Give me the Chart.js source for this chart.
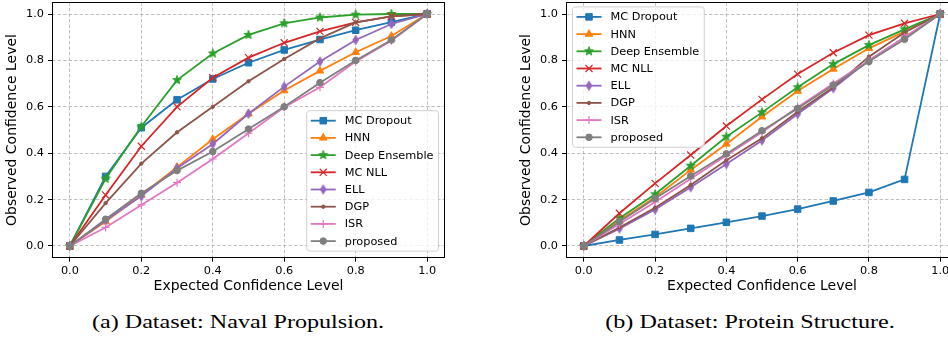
<!DOCTYPE html>
<html>
<head>
<meta charset="utf-8">
<script src="https://cdn.jsdelivr.net/npm/chart.js"></script>
<style>
  html, body { margin: 0; padding: 0; overflow: hidden; background: #fff; }
  body { width: 948px; height: 337px; position: relative; }
  .plot { position: absolute; top: 0; height: 300px; }
  .cap {
    position: absolute; top: 312px; white-space: nowrap;
    font-family: "Liberation Serif", "Times New Roman", serif;
    font-size: 19px; line-height: 19px; color: #000;
    transform: translateX(-50%) scaleX(1.27);
  }
</style>
</head>
<body>
<div class="plot" style="left:0px;width:447px"><canvas id="chartA" width="447" height="300"></canvas></div>
<div class="plot" style="left:514px;width:446px"><canvas id="chartB" width="446" height="300"></canvas></div>
<div class="cap" style="left:238px">(a) Dataset: Naval Propulsion.</div>
<div class="cap" style="left:750px">(b) Dataset: Protein Structure.</div>
<script>
const xlevels = [0, 0.1, 0.2, 0.3, 0.4, 0.5, 0.6, 0.7, 0.8, 0.9, 1.0];
const tickValues = [0, 0.2, 0.4, 0.6, 0.8, 1.0];
const seriesNames = ['MC Dropout', 'HNN', 'Deep Ensemble', 'MC NLL', 'ELL', 'DGP', 'ISR', 'proposed'];

// (a) Naval Propulsion
const mcDropoutA = [0, 0.30, 0.51, 0.63, 0.72, 0.79, 0.845, 0.89, 0.93, 0.965, 1.0];
const hnnA       = [0, 0.105, 0.22, 0.34, 0.46, 0.57, 0.67, 0.755, 0.835, 0.905, 1.0];
const deepEnsA   = [0, 0.29, 0.515, 0.715, 0.83, 0.91, 0.96, 0.985, 0.997, 1.0, 1.0];
const mcNllA     = [0, 0.22, 0.43, 0.60, 0.725, 0.812, 0.876, 0.925, 0.964, 0.99, 1.0];
const ellA       = [0, 0.11, 0.215, 0.335, 0.44, 0.57, 0.687, 0.795, 0.888, 0.957, 1.0];
const dgpA       = [0, 0.185, 0.355, 0.49, 0.60, 0.71, 0.806, 0.895, 0.964, 0.99, 1.0];
const isrA       = [0, 0.08, 0.177, 0.273, 0.375, 0.486, 0.598, 0.684, 0.795, 0.885, 1.0];
const proposedA  = [0, 0.115, 0.227, 0.325, 0.407, 0.504, 0.60, 0.704, 0.80, 0.888, 1.0];

// (b) Protein Structure
const mcDropoutB = [0, 0.026, 0.05, 0.076, 0.102, 0.129, 0.159, 0.194, 0.231, 0.287, 1.0];
const hnnB       = [0, 0.11, 0.21, 0.328, 0.44, 0.557, 0.668, 0.763, 0.852, 0.924, 1.0];
const deepEnsB   = [0, 0.12, 0.223, 0.346, 0.471, 0.576, 0.684, 0.784, 0.866, 0.934, 1.0];
const mcNllB     = [0, 0.141, 0.27, 0.392, 0.517, 0.632, 0.741, 0.833, 0.909, 0.96, 1.0];
const ellB       = [0, 0.075, 0.157, 0.253, 0.353, 0.455, 0.569, 0.68, 0.80, 0.90, 1.0];
const dgpB       = [0, 0.08, 0.165, 0.263, 0.37, 0.464, 0.579, 0.684, 0.816, 0.92, 1.0];
const isrB       = [0, 0.095, 0.19, 0.29, 0.39, 0.49, 0.598, 0.70, 0.80, 0.90, 1.0];
const proposedB  = [0, 0.105, 0.205, 0.302, 0.397, 0.497, 0.593, 0.694, 0.795, 0.891, 1.0];

const colors = ['#1f77b4', '#ff7f0e', '#2ca02c', '#d62728', '#9467bd', '#8c564b', '#e377c2', '#7f7f7f'];

Chart.defaults.font.family = '"DejaVu Sans", sans-serif';
Chart.defaults.color = '#000';

// little canvases for the markers chart.js does not have
function starMarker(color, r) {
    const s = Math.ceil(r * 2 + 2);
    const c = document.createElement('canvas');
    c.width = s; c.height = s;
    const g = c.getContext('2d');
    g.fillStyle = color; g.strokeStyle = color; g.lineWidth = 1;
    g.beginPath();
    for (let k = 0; k < 10; k++) {
        const rr = k % 2 ? r * 0.42 : r;
        const a = -Math.PI / 2 + k * Math.PI / 5;
        g.lineTo(s / 2 + rr * Math.cos(a), s / 2 + rr * Math.sin(a));
    }
    g.closePath(); g.fill(); g.stroke();
    return c;
}
function thinDiamond(color, h) {
    const w = h * 0.62;
    const c = document.createElement('canvas');
    c.width = Math.ceil(w * 2 + 2); c.height = Math.ceil(h * 2 + 2);
    const g = c.getContext('2d');
    const cx = c.width / 2, cy = c.height / 2;
    g.fillStyle = color; g.strokeStyle = color; g.lineWidth = 1;
    g.beginPath();
    g.moveTo(cx, cy - h); g.lineTo(cx + w, cy); g.lineTo(cx, cy + h); g.lineTo(cx - w, cy);
    g.closePath(); g.fill(); g.stroke();
    return c;
}

const markers = [
    {style: 'rect', radius: 4.6, bw: 1},
    {style: 'triangle', radius: 4.4, bw: 1},
    {style: starMarker(colors[2], 4.6), radius: 4, bw: 1},
    {style: 'crossRot', radius: 5, bw: 1.2},
    {style: thinDiamond(colors[4], 4.6), radius: 4, bw: 1},
    {style: 'circle', radius: 1.7, bw: 1},
    {style: 'cross', radius: 4, bw: 1.2},
    {style: 'circle', radius: 3.3, bw: 1}
];

const spines = {
    id: 'spines',
    afterDatasetsDraw(chart) {
        const {ctx, chartArea: a} = chart;
        ctx.save();
        ctx.strokeStyle = '#000';
        ctx.lineWidth = 1;
        const l = Math.round(a.left) + 0.5, t = Math.round(a.top) + 0.5;
        const r = Math.round(a.right) - 0.5, b = Math.round(a.bottom) - 0.5;
        ctx.strokeRect(l, t, r - l, b - t);
        ctx.restore();
    }
};

const boxLegend = {
    id: 'boxLegend',
    afterDraw(chart, args, opts) {
        const ctx = chart.ctx, area = chart.chartArea;
        const sets = chart.data.datasets;
        const fs = 11.3, rowH = 17.2, inset = 10, pad = 4, handle = 25, gap = 9, edge = 6.5;
        ctx.save();
        ctx.font = fs + 'px "DejaVu Sans"';
        const textW = Math.max(...sets.map(d => ctx.measureText(d.label).width));
        const w = pad + handle + gap + textW + 5;
        const h = inset * 2 + (sets.length - 1) * rowH;
        let x0, y0;
        if (opts.corner === 'lowerRight') {
            x0 = area.right - edge - w;
            y0 = area.bottom - edge - h;
        } else {
            x0 = area.left + edge;
            y0 = area.top + edge - 2;
        }
        ctx.beginPath();
        ctx.roundRect(x0, y0, w, h, 3);
        ctx.fillStyle = 'rgba(255,255,255,0.8)';
        ctx.fill();
        ctx.strokeStyle = '#d0d0d0';
        ctx.lineWidth = 1;
        ctx.stroke();
        sets.forEach((d, i) => {
            const cy = y0 + inset + i * rowH;
            const lx = x0 + pad;
            ctx.strokeStyle = d.borderColor;
            ctx.lineWidth = d.borderWidth;
            ctx.beginPath();
            ctx.moveTo(lx, cy);
            ctx.lineTo(lx + handle, cy);
            ctx.stroke();
            if (Chart.helpers && Chart.helpers.drawPoint) {
                ctx.fillStyle = d.borderColor;
                ctx.lineWidth = d.pointBorderWidth;
                Chart.helpers.drawPoint(ctx, {
                    pointStyle: d.pointStyle, rotation: 0,
                    radius: d.pointRadius, borderWidth: d.pointBorderWidth
                }, lx + handle / 2, cy);
            }
            ctx.fillStyle = '#000';
            ctx.textBaseline = 'middle';
            ctx.textAlign = 'left';
            ctx.fillText(d.label, lx + handle + gap, cy + 0.5);
        });
        ctx.restore();
    }
};

function axis(title, horizontal) {
    return {
        type: 'linear',
        min: -0.05,
        max: 1.05,
        afterBuildTicks: s => { s.ticks = tickValues.map(v => ({value: v})); },
        afterFit: s => {
            if (horizontal) s.height = 42.4;
            else s.width = 52;
            // keep the plot box where it is, labels may overhang
            s.paddingTop = 0; s.paddingBottom = 0;
            s.paddingLeft = 0; s.paddingRight = 0;
        },
        ticks: {
            font: {size: 11.3},
            color: '#000',
            padding: horizontal ? 3 : 4,
            maxRotation: 0,
            autoSkip: false,
            callback: v => v.toFixed(1)
        },
        grid: {
            color: '#b0b0b0',
            lineWidth: 0.8,
            tickLength: 4,
            tickColor: '#000',
            tickWidth: 1
        },
        border: {display: false, dash: [3.5, 2]},
        title: {
            display: true,
            text: title,
            font: {size: 14},
            color: '#000',
            padding: horizontal ? {top: 4, bottom: 5} : {top: 4, bottom: 4}
        }
    };
}

function makeChart(id, valueSets, corner) {
    const datasets = valueSets.map((vals, i) => ({
        label: seriesNames[i],
        data: xlevels.map((x, k) => ({x: x, y: vals[k]})),
        borderColor: colors[i],
        backgroundColor: colors[i],
        pointBackgroundColor: colors[i],
        pointBorderColor: colors[i],
        borderWidth: 1.8,
        pointStyle: markers[i].style,
        pointRadius: markers[i].radius,
        pointBorderWidth: markers[i].bw,
        tension: 0,
        fill: false,
        order: valueSets.length - 1 - i
    }));
    return new Chart(document.getElementById(id).getContext('2d'), {
        type: 'line',
        data: {datasets: datasets},
        options: {
            responsive: false,
            animation: false,
            devicePixelRatio: 1,
            layout: {autoPadding: false, padding: {top: 2.4, right: 2, left: 0, bottom: 0}},
            scales: {
                x: axis('Expected Confidence Level', true),
                y: axis('Observed Confidence Level', false)
            },
            plugins: {
                legend: {display: false},
                tooltip: {enabled: false},
                boxLegend: {corner: corner}
            }
        },
        plugins: [spines, boxLegend]
    });
}

makeChart('chartA', [mcDropoutA, hnnA, deepEnsA, mcNllA, ellA, dgpA, isrA, proposedA], 'lowerRight');
makeChart('chartB', [mcDropoutB, hnnB, deepEnsB, mcNllB, ellB, dgpB, isrB, proposedB], 'upperLeft');
</script>
</body>
</html>
